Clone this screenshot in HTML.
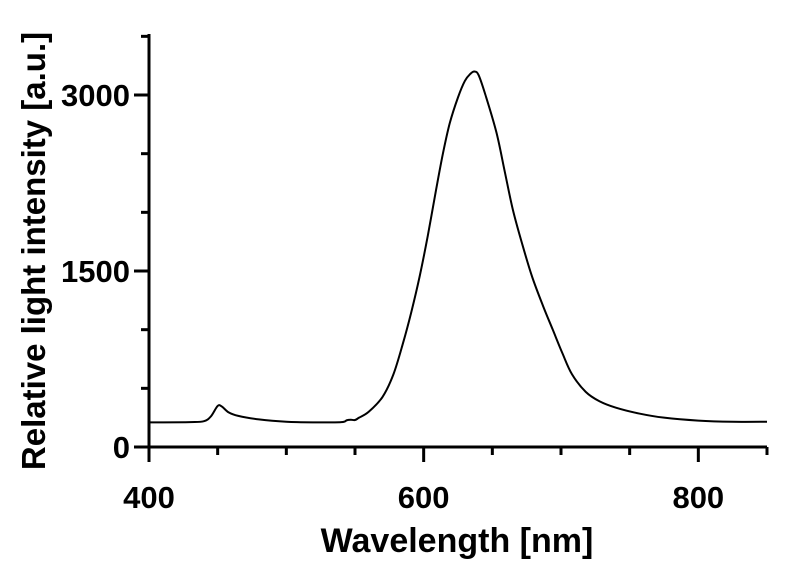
<!DOCTYPE html>
<html><head><meta charset="utf-8"><style>
body{margin:0;background:#fff;}
svg{display:block;font-family:"Liberation Sans",sans-serif;font-weight:bold;}
</style></head><body>
<svg id="chart" width="786" height="569" viewBox="0 0 786 569" xmlns="http://www.w3.org/2000/svg">
<g id="axes"></g>
<path id="line" fill="none" stroke="#000" stroke-width="2" stroke-linejoin="round"/>
<text x="457" y="552" font-size="34" text-anchor="middle">Wavelength [nm]</text>
<text transform="translate(45,251) rotate(-90)" font-size="33" text-anchor="middle">Relative light intensity [a.u.]</text>
</svg>
<script>
const wavelengths=[400,430,440,445,450,453,458,465,480,500,520,540,544,547,550,553,560,570,578,585,591,597,603,609,614,619,625,630,634,637,640,645,653,659,665,672,679,687,694,701,708,718,728,740,757,775,800,825,850];
const intensity=[210,212,220,260,350,345,295,265,235,215,210,212,228,232,230,250,300,426,620,887,1150,1450,1800,2190,2500,2760,2980,3120,3180,3200,3170,3000,2680,2350,2020,1720,1450,1200,1000,800,620,470,390,335,285,250,225,215,215];
const xTicks=[400,600,800];
const yTicks=[0,1500,3000];
const X0=149,X1=767,Y0=447,Y1=34,xMin=400,xMax=850,yMax=3520;
const sx=v=>X0+(v-xMin)/(xMax-xMin)*(X1-X0);
const sy=v=>Y0-v/yMax*(Y0-Y1);
const NS="http://www.w3.org/2000/svg";
const axes=document.getElementById('axes');
function mk(tag,attrs){const e=document.createElementNS(NS,tag);for(const k in attrs)e.setAttribute(k,attrs[k]);axes.appendChild(e);return e;}
let el=mk('line',{x1:X0,y1:Y1,x2:X0,y2:Y0+1.5,stroke:'#000','stroke-width':3});


el=mk('line',{x1:X0-1.5,y1:Y0,x2:X1,y2:Y0,stroke:'#000','stroke-width':3});


for(let v=0;v<=3500;v+=500){
  const major=yTicks.includes(v);
  el=mk('line',{x1:X0-(major?15:8),y1:sy(v),x2:X0,y2:sy(v),stroke:'#000','stroke-width':3});
  
  
}
yTicks.forEach(v=>{
  el=mk('text',{x:X0-19,y:sy(v)+11,'font-size':31,'text-anchor':'end'});
  el.textContent=v;
  
  
});
for(let v=400;v<=850;v+=50){
  const major=xTicks.includes(v);
  el=mk('line',{x1:sx(v),y1:Y0,x2:sx(v),y2:Y0+(major?15:8),stroke:'#000','stroke-width':3});
  
  
}
xTicks.forEach(v=>{
  el=mk('text',{x:sx(v),y:Y0+61,'font-size':31,'text-anchor':'middle'});
  el.textContent=v;
  
  
});
const pts=wavelengths.map((w,i)=>[sx(w),sy(intensity[i])]);
let d='M'+pts[0][0]+','+pts[0][1];
for(let i=1;i<pts.length;i++){
  const p0=pts[Math.max(0,i-2)],p1=pts[i-1],p2=pts[i],p3=pts[Math.min(pts.length-1,i+1)];
  const c1x=p1[0]+(p2[0]-p0[0])/6,c1y=p1[1]+(p2[1]-p0[1])/6;
  const c2x=p2[0]-(p3[0]-p1[0])/6,c2y=p2[1]-(p3[1]-p1[1])/6;
  d+=` C${c1x},${c1y} ${c2x},${c2y} ${p2[0]},${p2[1]}`;
}
document.getElementById('line').setAttribute('d',d);
</script>
</body></html>
